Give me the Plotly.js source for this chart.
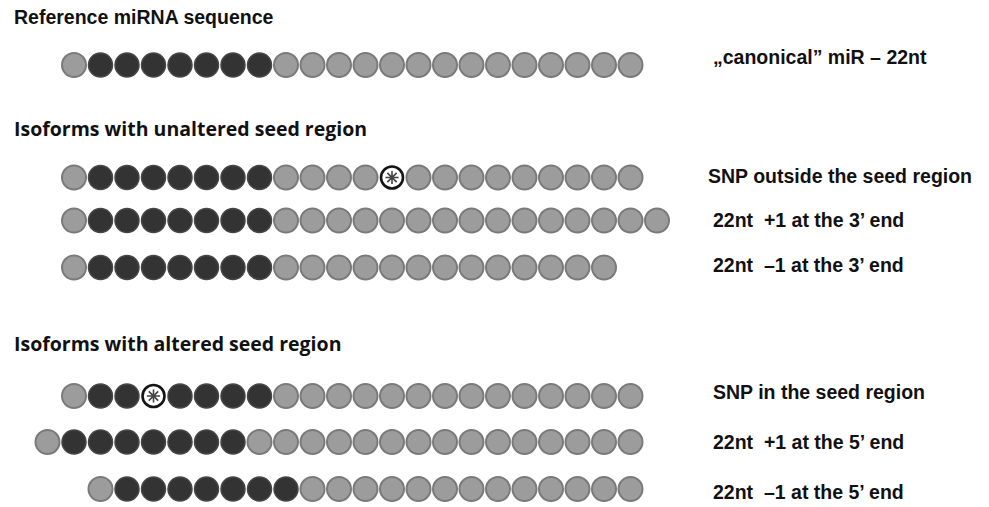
<!DOCTYPE html>
<html>
<head>
<meta charset="utf-8">
<script src="https://cdn.plot.ly/plotly-3.0.1.min.js"></script>
<style>
  html, body { margin: 0; padding: 0; background: #ffffff; }
  #chart { width: 989px; height: 507px; }
</style>
</head>
<body>
<div id="chart"></div>
<script>
// ---- data: each isoform as a string of nucleotide states
// G = ordinary nucleotide, D = seed-region nucleotide, S = SNP
const rowNames = [
  "canonical",
  "SNP outside the seed region",
  "+1 at the 3' end",
  "-1 at the 3' end",
  "SNP in the seed region",
  "+1 at the 5' end",
  "-1 at the 5' end"
];
const sequences = [
  "GDDDDDDDGGGGGGGGGGGGGG",
  "GDDDDDDDGGGGSGGGGGGGGG",
  "GDDDDDDDGGGGGGGGGGGGGGG",
  "GDDDDDDDGGGGGGGGGGGGG",
  "GDDSDDDDGGGGGGGGGGGGGG",
  "GDDDDDDDGGGGGGGGGGGGGGG",
  "GDDDDDDDGGGGGGGGGGGGG"
];
// shift of first nucleotide relative to the canonical 5' end
const startShift = [0, 0, 0, 0, 0, -1, 1];

const rowLabels = [
  "\u201Ecanonical\u201D miR \u2013 22nt",
  "SNP outside the seed region",
  "22nt\u00A0 +1 at the 3\u2019 end",
  "22nt\u00A0 \u20131 at the 3\u2019 end",
  "SNP in the seed region",
  "22nt\u00A0 +1 at the 5\u2019 end",
  "22nt\u00A0 \u20131 at the 5\u2019 end"
];
const sectionTitles = [
  "Reference miRNA sequence",
  "Isoforms with unaltered seed region",
  "Isoforms with altered seed region"
];

// ---- layout positions (pixels)
const W = 989, H = 507;
const rowY = [65, 177.5, 220.5, 267.5, 396, 442, 489];
const labelY = [57, 176, 220, 265, 392, 442, 492];
const labelX = [711, 706, 711, 711, 711, 711, 711];
const titleY = [17, 128, 343];
const firstX = 74, step = 26.5;

// ---- build traces
const pts = { G: {x: [], y: []}, D: {x: [], y: []}, S: {x: [], y: []} };
sequences.forEach((seq, r) => {
  seq.split("").forEach((c, k) => {
    pts[c].x.push(startShift[r] + k);
    pts[c].y.push(rowY[r]);
  });
});

const traces = [
  { type: "scatter", mode: "markers", x: pts.G.x, y: pts.G.y, name: "nucleotide",
    marker: { size: 24, color: "#9c9c9c", line: { color: "#7a7a7a", width: 2 } } },
  { type: "scatter", mode: "markers", x: pts.D.x, y: pts.D.y, name: "seed",
    marker: { size: 24, color: "#333333", line: { color: "#474747", width: 1.5 } } },
  { type: "scatter", mode: "markers", x: pts.S.x, y: pts.S.y, name: "SNP",
    marker: { size: 22, color: "#ffffff", line: { color: "#151515", width: 2.6 } } },
  { type: "scatter", mode: "markers", x: pts.S.x, y: pts.S.y, name: "SNP mark",
    marker: { size: 11, symbol: "asterisk-open", color: "#444444", line: { color: "#444444", width: 1.6 } } }
];

const annotations = [];
sectionTitles.forEach((t, i) => {
  annotations.push({
    xref: "paper", yref: "y", x: 12 / W, y: titleY[i], xanchor: "left", yanchor: "middle",
    text: "<b>" + t + "</b>", showarrow: false,
    font: { family: i === 0 ? "Liberation Sans, Arial, sans-serif" : "Open Sans, sans-serif",
            size: 19.5, color: "#111111" }
  });
});
rowLabels.forEach((t, i) => {
  annotations.push({
    xref: "paper", yref: "y", x: labelX[i] / W, y: labelY[i], xanchor: "left", yanchor: "middle",
    text: "<b>" + t + "</b>", showarrow: false,
    font: { family: "Liberation Sans, Arial, sans-serif", size: 19.5, color: "#111111" }
  });
});

const layout = {
  width: W, height: H,
  margin: { l: 0, r: 0, t: 0, b: 0, pad: 0 },
  paper_bgcolor: "#ffffff", plot_bgcolor: "#ffffff",
  showlegend: false, hovermode: false,
  xaxis: { range: [-firstX / step, (W - firstX) / step], visible: false, fixedrange: true },
  yaxis: { range: [H, 0], visible: false, fixedrange: true },
  annotations: annotations
};

Plotly.newPlot("chart", traces, layout, { staticPlot: true, displayModeBar: false });
</script>
</body>
</html>
